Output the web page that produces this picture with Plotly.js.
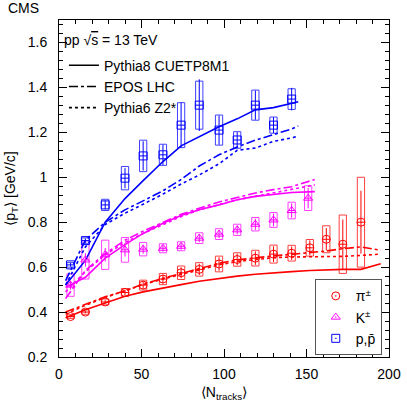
<!DOCTYPE html>
<html>
<head>
<meta charset="utf-8">
<script src="https://cdn.plot.ly/plotly-3.0.1.min.js"></script>
<style>
  html, body { margin: 0; padding: 0; background: #fff; }
  #ptplot { width: 407px; height: 407px; }
</style>
</head>
<body>
<div id="ptplot"></div>
<script>
// data (CMS pp 13 TeV, <pT> vs <Ntracks>)
var xPi = [7, 16, 28, 40, 51, 63, 74, 85, 97, 108, 119, 130, 141, 152, 162, 172, 183];
var yPi = [0.38, 0.40, 0.445, 0.487, 0.52, 0.547, 0.575, 0.59, 0.614, 0.634, 0.64, 0.658, 0.662, 0.686, 0.724, 0.702, 0.80];
var sysPi = [0.008, 0.01, 0.013, 0.018, 0.022, 0.025, 0.03, 0.03, 0.035, 0.03, 0.035, 0.04, 0.035, 0.037, 0.06, 0.13, 0.2];
var statPi = [0.004, 0.005, 0.008, 0.012, 0.016, 0.02, 0.024, 0.025, 0.03, 0.026, 0.03, 0.035, 0.03, 0.033, 0.05, 0.11, 0.14];

var xK = [7, 16, 28, 40, 51, 63, 74, 85, 97, 108, 119, 130, 141, 151];
var yK = [0.52, 0.632, 0.655, 0.677, 0.68, 0.684, 0.693, 0.729, 0.747, 0.766, 0.791, 0.81, 0.852, 0.907];
var sysK = [0.05, 0.085, 0.065, 0.055, 0.03, 0.02, 0.02, 0.024, 0.024, 0.025, 0.03, 0.033, 0.037, 0.055];
var statK = [0.02, 0.03, 0.03, 0.03, 0.02, 0.015, 0.015, 0.018, 0.018, 0.02, 0.025, 0.028, 0.032, 0.045];

var xP = [7, 16, 28, 40, 51, 63, 74, 85, 97, 108, 119, 130, 141];
var yP = [0.61, 0.718, 0.877, 0.996, 1.095, 1.10, 1.232, 1.321, 1.21, 1.166, 1.321, 1.232, 1.348];
var sysP = [0.01, 0.012, 0.025, 0.052, 0.07, 0.047, 0.1, 0.107, 0.067, 0.037, 0.067, 0.036, 0.046];
var statP = [0.008, 0.01, 0.02, 0.045, 0.065, 0.045, 0.1, 0.115, 0.065, 0.035, 0.065, 0.035, 0.05];

// MC curves
var xMC = [4, 16, 28, 40, 51, 63, 74, 85, 97, 108, 119, 130, 141, 152, 162, 172, 183, 195];
var piP8 = [0.375, 0.41, 0.44, 0.47, 0.49, 0.508, 0.522, 0.537, 0.55, 0.56, 0.568, 0.575, 0.58, 0.585, 0.588, 0.59, 0.59, 0.615];
var piEPOS = [0.40, 0.435, 0.468, 0.495, 0.525, 0.55, 0.572, 0.595, 0.617, 0.632, 0.642, 0.65, 0.657, 0.664, 0.672, 0.682, 0.69, 0.675];
var piP6 = [0.39, 0.43, 0.465, 0.495, 0.522, 0.547, 0.568, 0.59, 0.61, 0.625, 0.635, 0.642, 0.645, 0.645, 0.647, 0.648, 0.652, 0.658];

var xMCK = [4, 16, 28, 40, 51, 63, 74, 85, 97, 108, 119, 130, 141, 155];
var kP8 = [0.51, 0.555, 0.64, 0.70, 0.75, 0.795, 0.83, 0.855, 0.877, 0.90, 0.915, 0.925, 0.932, 0.936];
var kEPOS = [0.46, 0.585, 0.66, 0.72, 0.76, 0.80, 0.835, 0.862, 0.89, 0.91, 0.93, 0.945, 0.958, 0.99];
var kP6 = [0.49, 0.58, 0.655, 0.71, 0.75, 0.79, 0.825, 0.855, 0.88, 0.90, 0.915, 0.93, 0.945, 0.966];

var xMCP = [4, 16, 28, 40, 51, 63, 74, 85, 97, 108, 119, 130, 141, 145];
var pP8 = [0.52, 0.63, 0.80, 0.905, 0.985, 1.07, 1.14, 1.18, 1.225, 1.26, 1.30, 1.31, 1.33, 1.336];
var pEPOS = [0.54, 0.72, 0.80, 0.855, 0.895, 0.94, 0.99, 1.05, 1.10, 1.135, 1.165, 1.19, 1.215, 1.228];
var pP6 = [0.52, 0.69, 0.79, 0.84, 0.88, 0.925, 0.97, 1.01, 1.06, 1.12, 1.13, 1.16, 1.175, 1.183];

var mcNames = ['Pythia8 CUETP8M1', 'EPOS LHC', 'Pythia6 Z2*'];
var mcDash = ['solid', 'dashdot', 'dot'];
var partNames = ['π<sup>±</sup>', 'K<sup>±</sup>', 'p,p\u0304'];

var RED = '#ff0000', MAG = '#ff00ff', BLUE = '#0000ff';
var boxW = 4.4;

function halfW(arr) { return arr.map(function () { return boxW / 2; }); }
function minus(a, b) { return a.map(function (v, i) { return v - b[i]; }); }
function twice(a) { return a.map(function (v) { return 2 * v; }); }

// systematic boxes as outlined bars
function sysBox(x, y, sys, col) {
  return {
    type: 'bar', x: x, y: twice(sys), base: minus(y, sys), width: boxW,
    marker: { color: 'rgba(0,0,0,0)', line: { color: col, width: 1 } },
    opacity: 0.75, showlegend: false, hoverinfo: 'skip'
  };
}

function points(x, y, stat, col, sym) {
  return {
    type: 'scatter', mode: 'markers', x: x, y: y,
    marker: { symbol: sym, size: 8, color: col, line: { width: 1, color: col } },
    error_y: { type: 'data', array: stat, color: col, thickness: 1, width: 0 },
    error_x: { type: 'data', array: halfW(x), color: col, thickness: 1, width: 0 },
    showlegend: false
  };
}

function curve(x, y, col, k) {
  return {
    type: 'scatter', mode: 'lines', x: x, y: y,
    line: { color: col, width: 1.6, dash: mcDash[k] },
    showlegend: false, hoverinfo: 'skip'
  };
}

var traces = [
  sysBox(xPi, yPi, sysPi, RED),
  sysBox(xK, yK, sysK, MAG),
  sysBox(xP, yP, sysP, BLUE),
  curve(xMC, piP8, RED, 0), curve(xMC, piEPOS, RED, 1), curve(xMC, piP6, RED, 2),
  curve(xMCK, kP8, MAG, 0), curve(xMCK, kEPOS, MAG, 1), curve(xMCK, kP6, MAG, 2),
  curve(xMCP, pP8, BLUE, 0), curve(xMCP, pEPOS, BLUE, 1), curve(xMCP, pP6, BLUE, 2),
  points(xPi, yPi, statPi, RED, 'circle-open'),
  points(xK, yK, statK, MAG, 'triangle-up-open'),
  points(xP, yP, statP, BLUE, 'square-open')
];

// legend entries (generator styles)
mcNames.forEach(function (n, k) {
  traces.push({
    type: 'scatter', mode: 'lines', x: [null], y: [null], name: n,
    line: { color: 'black', width: 1.6, dash: mcDash[k] }, legend: 'legend'
  });
});
var legSym = ['circle-open-dot', 'triangle-up-open-dot', 'square-open-dot'];
var legCol = [RED, MAG, BLUE];
partNames.forEach(function (n, k) {
  traces.push({
    type: 'scatter', mode: 'markers', x: [null], y: [null], name: n,
    marker: { symbol: legSym[k], size: 8, color: legCol[k], line: { width: 1, color: legCol[k] } },
    legend: 'legend2'
  });
});

var FONT = 'Liberation Sans, Arial, sans-serif';

var layout = {
  width: 407, height: 407,
  margin: { l: 59, r: 18, t: 20, b: 50 },
  paper_bgcolor: '#fff', plot_bgcolor: '#fff',
  font: { family: FONT, size: 14, color: 'black' },
  barmode: 'overlay',
  xaxis: {
    range: [0, 200], dtick: 50, tick0: 0,
    ticks: 'inside', ticklen: 8, tickcolor: 'black', mirror: 'allticks',
    showline: true, linecolor: 'black', linewidth: 1,
    showgrid: false, zeroline: false, ticklabelstandoff: 4,
    minor: { dtick: 10, ticks: 'inside', ticklen: 4, tickcolor: 'black', showgrid: false },
    title: { text: '⟨N<sub>tracks</sub>⟩', font: { size: 14 }, standoff: 6 }
  },
  yaxis: {
    range: [0.2, 1.7], dtick: 0.2, tick0: 0.2,
    ticks: 'inside', ticklen: 8, tickcolor: 'black', mirror: 'allticks',
    showline: true, linecolor: 'black', linewidth: 1,
    showgrid: false, zeroline: false, ticklabelstandoff: 8,
    minor: { dtick: 0.04, ticks: 'inside', ticklen: 4, tickcolor: 'black', showgrid: false },
    title: { text: '⟨p<sub>T</sub>⟩ [GeV/c]', font: { size: 14 }, standoff: 8 }
  },
  legend: {
    x: 0.015, y: 0.912, xanchor: 'left', yanchor: 'top',
    bgcolor: 'rgba(0,0,0,0)', borderwidth: 0,
    font: { size: 14 }, tracegroupgap: 0
  },
  legend2: {
    x: 0.775, y: 0.005, xanchor: 'left', yanchor: 'bottom',
    bgcolor: '#fff', bordercolor: '#555', borderwidth: 1,
    font: { size: 14 }, tracegroupgap: 0
  },
  annotations: [
    { text: 'CMS', xref: 'paper', yref: 'paper', x: -0.16, y: 1.036,
      xanchor: 'left', yanchor: 'middle', showarrow: false, font: { size: 14 } },
    { text: 'pp √<span style="text-decoration:overline">s</span> = 13 TeV', xref: 'paper', yref: 'paper',
      x: 0.01, y: 0.94, xanchor: 'left', yanchor: 'middle', showarrow: false, font: { size: 14 } }
  ]
};

Plotly.newPlot('ptplot', traces, layout, { displayModeBar: false, staticPlot: true });
</script>
</body>
</html>
